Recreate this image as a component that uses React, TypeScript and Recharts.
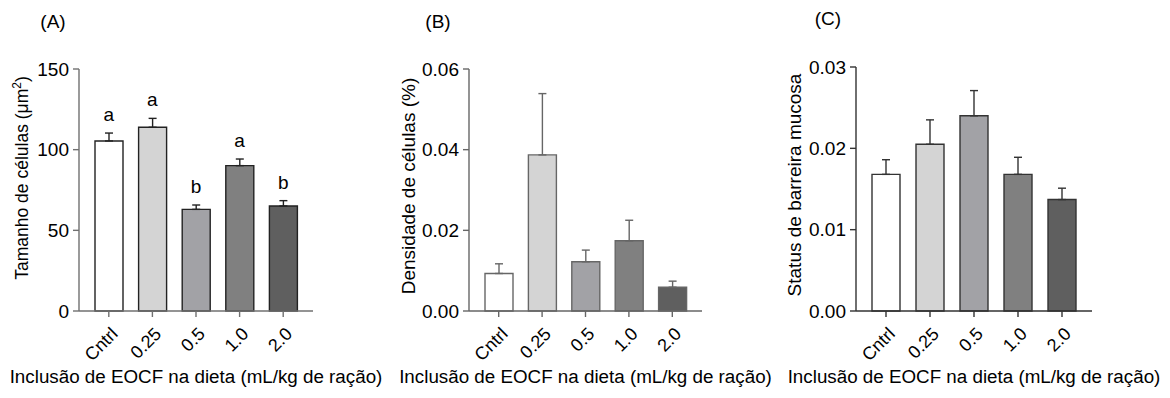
import React from 'react';
import { ComposedChart, Bar, Line, XAxis, YAxis, ErrorBar, LabelList, Cell } from 'recharts';

const categories = ['Cntrl', '0.25', '0.5', '1.0', '2.0'];
const tamanhoMean = [105.4, 113.9, 63.0, 90.1, 65.1];
const tamanhoErr = [4.9, 5.5, 2.7, 4.1, 3.3];
const tamanhoLetters = ['a', 'a', 'b', 'a', 'b'];
const densidadeMean = [0.0093, 0.0387, 0.0122, 0.0174, 0.0059];
const densidadeErr = [0.0024, 0.0152, 0.0029, 0.0051, 0.0015];
const statusMean = [0.0168, 0.0205, 0.024, 0.0168, 0.0137];
const statusErr = [0.0018, 0.003, 0.0031, 0.0021, 0.0014];
const barColors = ['#ffffff', '#d4d4d4', '#a2a2a6', '#808080', '#5f5f5f'];
const ticksA = [0, 50, 100, 150];
const ticksB = [0, 0.02, 0.04, 0.06];
const ticksC = [0, 0.01, 0.02, 0.03];
const xTitle = 'Inclusão de EOCF na dieta (mL/kg de ração)';

const FONT = '"Liberation Sans", Arial, sans-serif';
const FS = 19;

function build(mean: number[], err: number[], letters?: string[]) {
  return categories.map((c, i) => ({
    cat: c,
    mean: mean[i],
    err: [0, err[i]],
    top: mean[i] + err[i],
    letter: letters ? letters[i] : '',
  }));
}

const XTick = (props: any) => {
  const { x, y, payload } = props;
  return (
    <g transform={`translate(${x + 1},${y + 7}) rotate(-45)`}>
      <text textAnchor="end" dy="0.71em" fontSize={18} fill="#000" fontFamily={FONT}>
        {payload.value}
      </text>
    </g>
  );
};

type PanelProps = {
  left: number;
  top: number;
  data: any[];
  ticks: number[];
  fmt: (v: number) => string;
  yLabel: React.ReactNode;
  yLabelX: number;
  yLabelY: number;
  yLabelSize: number;
  margin: { top: number; right: number; bottom: number; left: number };
  axisColor: string;
  barStroke: string;
  showLetters?: boolean;
};

const Panel = (p: PanelProps) => {
  const YLab = () => {
    const cx = p.yLabelX - p.left;
    const cy = p.yLabelY - p.top;
    return (
      <text
        transform={`translate(${cx},${cy}) rotate(-90)`}
        textAnchor="middle"
        dy="0.35em"
        fontSize={p.yLabelSize}
        fill="#000"
        fontFamily={FONT}
      >
        {p.yLabel}
      </text>
    );
  };
  return (
    <div style={{ position: 'absolute', left: p.left, top: p.top }}>
      <ComposedChart width={390} height={398 - p.top} data={p.data} margin={p.margin}>
        <XAxis
          dataKey="cat"
          padding={{ left: 8, right: 8 }}
          axisLine={{ stroke: p.axisColor, strokeWidth: 1.4 }}
          tickLine={{ stroke: p.axisColor, strokeWidth: 1.4 }}
          tickSize={6}
          tickMargin={2}
          height={80}
          interval={0}
          tick={<XTick />}
          label={{ value: xTitle, position: 'insideBottom', offset: 8, fontSize: 18.8, fill: '#000', fontFamily: FONT }}
        />
        <YAxis
          domain={[p.ticks[0], p.ticks[p.ticks.length - 1]]}
          ticks={p.ticks}
          tickFormatter={p.fmt}
          width={60}
          axisLine={{ stroke: p.axisColor, strokeWidth: 1.4 }}
          tickLine={{ stroke: p.axisColor, strokeWidth: 1.4 }}
          tickSize={6}
          tickMargin={4}
          tick={{ fontSize: FS, fill: '#000', fontFamily: FONT }}
          label={<YLab />}
        />
        <Bar dataKey="mean" barSize={28} stroke={p.barStroke} strokeWidth={1.4} isAnimationActive={false}>
          {p.data.map((d, i) => (
            <Cell key={d.cat} fill={barColors[i]} />
          ))}
          <ErrorBar dataKey="err" width={4} stroke={p.barStroke} strokeWidth={1.4} direction="y" />
        </Bar>
        {p.showLetters && (
          <Line dataKey="top" stroke="none" dot={false} activeDot={false} isAnimationActive={false}>
            <LabelList dataKey="letter" position="top" offset={12} fontSize={FS} fill="#000" fontFamily={FONT} />
          </Line>
        )}
      </ComposedChart>
    </div>
  );
};

const fmt0 = (v: number) => String(v);
const fmt2 = (v: number) => v.toFixed(2);

export default function App() {
  const dA = build(tamanhoMean, tamanhoErr, tamanhoLetters);
  const dB = build(densidadeMean, densidadeErr);
  const dC = build(statusMean, statusErr);
  return (
    <div style={{ position: 'absolute', left: 0, top: 0, width: 1170, height: 398, background: '#fff', fontFamily: FONT }}>
      <Panel
        left={0}
        top={0}
        data={dA}
        ticks={ticksA}
        fmt={fmt0}
        yLabel={
          <>
            <tspan>Tamanho de células (μm</tspan>
            <tspan dy={-7} fontSize={12}>2</tspan>
            <tspan dy={7}>)</tspan>
          </>
        }
        yLabelX={22}
        yLabelY={178}
        yLabelSize={17.5}
        margin={{ top: 69, right: 77, bottom: 7, left: 19 }}
        axisColor="#707070"
        barStroke="#222"
        showLetters
      />
      <Panel
        left={390}
        top={0}
        data={dB}
        ticks={ticksB}
        fmt={fmt2}
        yLabel="Densidade de células (%)"
        yLabelX={408}
        yLabelY={186}
        yLabelSize={FS}
        margin={{ top: 69, right: 78, bottom: 7, left: 19 }}
        axisColor="#666"
        barStroke="#666"
      />
      <Panel
        left={780}
        top={0}
        data={dC}
        ticks={ticksC}
        fmt={fmt2}
        yLabel="Status de barreira mucosa"
        yLabelX={794}
        yLabelY={185}
        yLabelSize={FS}
        margin={{ top: 67, right: 78, bottom: 7, left: 16 }}
        axisColor="#333"
        barStroke="#333"
      />
      <svg width={1170} height={398} style={{ position: 'absolute', left: 0, top: 0, pointerEvents: 'none' }}>
        <text x={53} y={28} textAnchor="middle" fontSize={FS} fontFamily={FONT} fill="#000">(A)</text>
        <text x={438} y={28} textAnchor="middle" fontSize={FS} fontFamily={FONT} fill="#000">(B)</text>
        <text x={828} y={25} textAnchor="middle" fontSize={FS} fontFamily={FONT} fill="#000">(C)</text>
      </svg>
    </div>
  );
}
